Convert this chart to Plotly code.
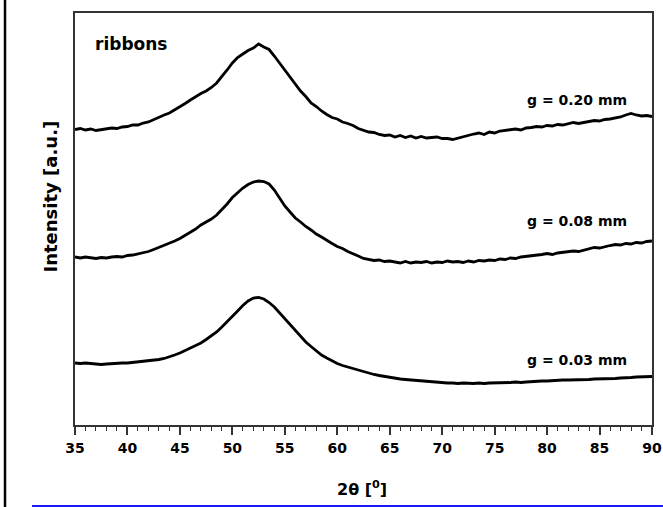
import numpy as np
import plotly.graph_objects as go

# 2-theta grid (degrees), 0.5 deg steps from 35 to 90
two_theta = [35 + 0.5 * i for i in range(111)]

# Intensity (arbitrary units)
g020 = [295.5, 296.5, 295, 296, 294.5, 295.5, 296, 297, 296.5, 298,
        298.5, 300, 300, 302, 303, 305.5, 307.5, 310, 312, 315,
        318, 321.5, 325, 328.5, 331.5, 334, 337.5, 342, 348, 355,
        362, 367.5, 371, 374.5, 377, 381, 378, 375.5, 369, 362,
        354, 347, 340.5, 334, 328.5, 322, 318.5, 314, 310.5, 307.5,
        306, 303, 301.5, 299.5, 296.5, 294.5, 293, 292.5, 290.5, 289.5,
        290, 288, 289.5, 287.5, 289, 287, 288.5, 287, 287.5, 288,
        286.5, 286.5, 285.5, 287, 288, 289.5, 291, 292, 290.5, 293,
        292, 294, 294.5, 295.5, 296, 295, 297, 297.5, 298.5, 298,
        299.5, 299, 300.5, 300, 301, 302.5, 301.5, 302.5, 303, 304.5,
        304, 305.5, 306, 307, 308, 310, 311.5, 310, 309, 309.5,
        308.5]

g008 = [168, 167, 168, 167.5, 166.5, 167.5, 167, 168, 168.5, 168,
        169.5, 170, 171, 172.5, 173.5, 175.5, 177.5, 179.5, 182, 184,
        186.5, 189.5, 192.5, 196, 200, 203, 206, 210, 215, 221,
        227.5, 232.5, 237, 240.5, 243, 244, 243.5, 241, 235, 227,
        219, 213, 207, 203, 198.5, 195, 191, 188, 184.5, 181.5,
        178.5, 176.5, 173.5, 171.5, 169, 166.5, 165.5, 164.5, 165, 163.5,
        164, 163, 162, 163.5, 162, 163, 162.5, 163.5, 162, 163,
        162.5, 164, 163, 163.5, 162.5, 164, 163, 164.5, 164, 165,
        164.5, 166, 165.5, 167, 166.5, 168, 168.5, 169, 170, 170.5,
        171.5, 170.5, 172, 172.5, 173, 174, 173.5, 175, 176, 177.5,
        177, 178.5, 179.5, 180.5, 180, 181.5, 181, 182.5, 182, 183.5,
        184]

g003 = [62, 61.5, 62, 61.5, 61, 60.5, 61, 61.5, 61.5, 62,
        62, 62.5, 63, 63.5, 64, 64.5, 65.5, 66.5, 68, 70,
        72, 74.5, 77, 79.5, 82, 85.5, 89, 93, 98, 103,
        108.5, 114, 119.5, 124, 127, 127.5, 126, 122.5, 118, 112,
        106, 100, 94, 88.5, 83, 78.5, 74, 70, 67, 64,
        61.5, 59.5, 58, 56, 54.5, 53, 51.5, 50.5, 49.5, 48.5,
        47.5, 47, 46, 45.5, 45, 44.5, 44, 43.5, 43, 43,
        42.5, 42, 42, 41.5, 42, 41.5, 41.5, 42, 41.5, 42,
        42, 42.5, 42, 42.5, 43, 42.5, 43, 43.5, 43.5, 44,
        44, 44.5, 44.5, 45, 45, 45, 45.5, 45, 45.5, 46,
        46, 46, 46.5, 46.5, 47, 47, 47.5, 48, 48, 48.5,
        48.5]

series_labels = ["g = 0.20 mm", "g = 0.08 mm", "g = 0.03 mm"]
label_x = [82.85, 82.85, 82.85]
label_y = [325, 204, 65]
x_ticks = [35, 40, 45, 50, 55, 60, 65, 70, 75, 80, 85, 90]

FAM = "DejaVu Sans"

fig = go.Figure()
for ys in (g020, g008, g003):
    fig.add_trace(go.Scatter(x=two_theta, y=ys, mode="lines",
                             line=dict(color="black", width=2.8),
                             showlegend=False, hoverinfo="skip"))

annotations = []
for t, lx, ly in zip(series_labels, label_x, label_y):
    annotations.append(dict(x=lx, y=ly, xref="x", yref="y", text=t,
                            showarrow=False, xanchor="center", yanchor="middle",
                            font=dict(family=FAM, size=14, color="black", weight="bold")))
annotations.append(dict(x=36.7, y=381.5, xref="x", yref="y", text="ribbons",
                        showarrow=False, xanchor="left", yanchor="middle",
                        font=dict(family=FAM, size=17, color="black", weight="bold")))
annotations.append(dict(x=-0.0433, y=0.5546, xref="paper", yref="paper",
                        text="Intensity [a.u.]", textangle=-90,
                        showarrow=False, xanchor="center", yanchor="middle",
                        font=dict(family=FAM, size=18, color="black", weight="bold")))
annotations.append(dict(x=0.497, y=-0.155, xref="paper", yref="paper",
                        text="2θ [<sup>0</sup>]",
                        showarrow=False, xanchor="center", yanchor="middle",
                        font=dict(family=FAM, size=16, color="black", weight="bold")))

shapes = [
    dict(type="line", xref="paper", yref="paper", x0=-0.1213, x1=-0.1213,
         y0=1.04, y1=-0.2, line=dict(color="black", width=2.5)),
    dict(type="line", xref="paper", yref="paper", x0=-0.0745, x1=1.019,
         y0=-0.1966, y1=-0.1966, line=dict(color="#1a1aff", width=2)),
]

fig.update_layout(
    width=663, height=507,
    margin=dict(l=75, r=11, t=13, b=82, autoexpand=False),
    paper_bgcolor="white", plot_bgcolor="white",
    annotations=annotations, shapes=shapes,
    xaxis=dict(range=[35, 90], tickvals=x_ticks, ticks="outside", ticklen=8,
               tickwidth=1.5, tickcolor="#333", showline=True, linecolor="#333",
               linewidth=1.5, mirror=True, showgrid=False, zeroline=False,
               automargin=False, ticklabelstandoff=1,
               tickfont=dict(family=FAM, size=14, color="black", weight="bold"),
               minor=dict(dtick=1, ticks="outside", ticklen=4, tickwidth=1.2,
                          tickcolor="#333", showgrid=False)),
    yaxis=dict(range=[0, 412], showticklabels=False, ticks="", showline=True,
               linecolor="#333", linewidth=1.5, mirror=True, showgrid=False,
               zeroline=False, automargin=False),
)

fig.write_html("out.html")
